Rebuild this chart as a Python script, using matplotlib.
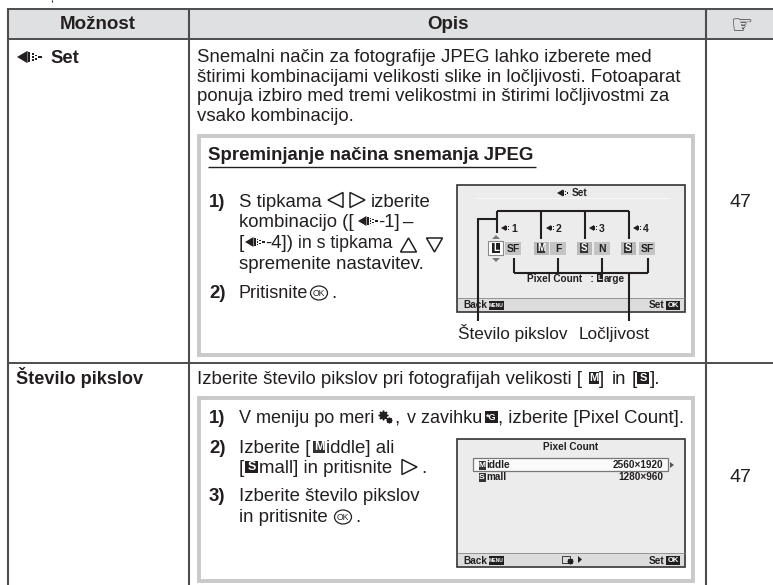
import matplotlib
matplotlib.use("Agg")
import matplotlib.pyplot as plt
from matplotlib.patches import Rectangle, Polygon, Ellipse

plt.rcParams['font.family'] = ['Liberation Sans', 'DejaVu Sans']

headers = ["Možnost", "Opis"]
row_labels = ["Set", "Število pikslov"]
page_refs = ["47", "47"]
intro_lines = ["Snemalni način za fotografije JPEG lahko izberete med",
               "štirimi kombinacijami velikosti slike in ločljivosti. Fotoaparat",
               "ponuja izbiro med tremi velikostmi in štirimi ločljivostmi za",
               "vsako kombinacijo."]
box_title = "Spreminjanje načina snemanja JPEG"
callouts = ["Število pikslov", "Ločljivost"]
combo_ids = ["1", "2", "3", "4"]
combo_sizes = ["L", "M", "S", "S"]
combo_quality = ["SF", "F", "N", "SF"]
pixel_rows = [("M", "iddle", "2560×1920"), ("S", "mall", "1280×960")]

INK = "#231f20"
LINE = "#4d4d4d"
BOX = "#c8c9ca"
SCREEN = "#ececec"
BODY = 13.4

fig = plt.figure(figsize=(7.73, 5.85), dpi=100)
ax = fig.add_axes([0, 0, 1, 1])
ax.set_xlim(0, 773)
ax.set_ylim(585, 0)
ax.axis("off")


def txt(x, y, s, size=BODY, weight="normal", ha="left", color=INK, va="baseline", **kw):
    ax.text(x, y, s, fontsize=size, fontweight=weight, ha=ha, va=va, color=color, **kw)


def line(xs, ys, lw=1.5, color=INK):
    ax.plot(xs, ys, color=color, lw=lw, solid_capstyle="butt", solid_joinstyle="miter")


def jpeg_icon(x, y, h, color=INK):
    # left arrow with the little dot columns behind it
    ax.add_patch(Polygon([(x, y), (x + h * 0.85, y - h * 0.5), (x + h * 0.85, y + h * 0.5)],
                         color=color, lw=0))
    ax.add_patch(Rectangle((x + h * 0.9, y - h * 0.38), h * 0.16, h * 0.76, color=color, lw=0))
    for dx, n in [(1.2, 3), (1.42, 2)]:
        for k in range(n):
            off = (k - (n - 1) / 2) * h * 0.26
            ax.add_patch(Rectangle((x + h * dx, y + off - h * 0.07), h * 0.14, h * 0.14,
                                   color=color, lw=0))
    ax.add_patch(Rectangle((x + h * 1.7, y - h * 0.07), h * 0.3, h * 0.14, color=color, lw=0))


def badge(x, y, s, w=14, h=12, size=9, face="#231f20", color="white"):
    ax.add_patch(Rectangle((x - w / 2, y - h / 2), w, h, facecolor=face, edgecolor="none"))
    txt(x, y + 0.3, s, size=size, weight="bold", ha="center", va="center", color=color)


def tri(cx, cy, w, h, direction):
    pts = {"l": [(cx - w / 2, cy), (cx + w / 2, cy - h / 2), (cx + w / 2, cy + h / 2)],
           "r": [(cx + w / 2, cy), (cx - w / 2, cy - h / 2), (cx - w / 2, cy + h / 2)],
           "u": [(cx, cy - h / 2), (cx - w / 2, cy + h / 2), (cx + w / 2, cy + h / 2)],
           "d": [(cx, cy + h / 2), (cx - w / 2, cy - h / 2), (cx + w / 2, cy - h / 2)]}[direction]
    ax.add_patch(Polygon(pts, facecolor="none", edgecolor=INK, lw=1.1))


def ok_icon(cx, cy):
    ax.add_patch(Ellipse((cx, cy), 17, 14, facecolor="none", edgecolor=INK, lw=0.9))
    txt(cx, cy + 0.2, "OK", size=6.2, ha="center", va="center")


def screen_frame(x0, y0, x1, y1):
    ax.add_patch(Rectangle((x0, y0), x1 - x0, y1 - y0, facecolor=SCREEN, edgecolor="#333333", lw=1.2))
    ax.add_patch(Rectangle((x0 + 1, y1 - 14), x1 - x0 - 2, 13, facecolor="#dcdcdc", edgecolor="none"))
    line([x0, x1], [y1 - 14, y1 - 14], lw=0.6, color="#888888")
    txt(x0 + 6, y1 - 3.5, "Back", size=7.2, weight="bold")
    badge(x0 + 39, y1 - 6.5, "MENU", w=15, h=9, size=3.6)
    txt(x1 - 36, y1 - 3.5, "Set", size=7.2, weight="bold")
    badge(x1 - 12, y1 - 6.5, "OK", w=14, h=9, size=5.5)


# table shading and rules
ax.add_patch(Rectangle((7, 9), 766, 30, facecolor="#dfe0e1", edgecolor="none"))
for y in [9, 39, 363]:
    line([7, 773], [y, y], lw=1.4, color=LINE)
for x in [7.5, 189, 706]:
    line([x, x], [9, 585], lw=1.5, color=LINE)
line([52, 52], [0, 2], lw=0.8)

# header row
txt(98, 29, headers[0], size=13.5, weight="bold", ha="center")
txt(448, 29, headers[1], size=13.5, weight="bold", ha="center")
txt(742, 26, "☞", size=18, ha="center", va="center", family="DejaVu Sans")

# row 1
jpeg_icon(17, 57, 12.5)
txt(50, 63, row_labels[0], size=13.2, weight="bold")
for y, s in zip([62, 82, 101, 121], intro_lines):
    txt(197, y, s)
txt(740, 207, page_refs[0], size=14, ha="center")

ax.add_patch(Rectangle((199, 136), 494, 219, facecolor="white", edgecolor=BOX, lw=2.8))
txt(208, 160, box_title, size=13.4, weight="bold")
line([208, 536], [167, 167], lw=1.0)

txt(209, 207, "1)", weight="bold")
txt(239, 207, "S tipkama")
tri(335.5, 200, 15, 15, "l")
tri(357.5, 200, 15, 15, "r")
txt(371, 207, "izberite")
txt(239, 227, "kombinacijo ([")
jpeg_icon(358, 221, 10)
txt(378, 227, "-1]")
txt(403, 227, "–")
txt(239, 248, "[")
jpeg_icon(245, 242, 10)
txt(265, 248, "-4])")
txt(298, 248, "in s tipkama", size=12.8)
tri(408.5, 245, 16, 14, "u")
tri(434.5, 245, 16, 14, "d")
txt(239, 269, "spremenite nastavitev.")
txt(209, 298, "2)", weight="bold")
txt(239, 298, "Pritisnite", size=13)
ok_icon(319, 293)
txt(331, 298, ".")

# first camera screen
screen_frame(457, 185, 685, 312)
jpeg_icon(557, 193, 7)
txt(572, 196, row_labels[0], size=7.2, weight="bold")
line([475, 670], [198, 198], lw=0.8, color="#f8f8f8")
size_x = [496, 541, 584, 628]
qual_x = [513, 558, 602, 647]
for i in range(4):
    jpeg_icon(size_x[i] + 5, 228, 6)
    txt(size_x[i] + 15, 231.5, combo_ids[i], size=7.5, weight="bold")
    if i == 0:
        ax.add_patch(Rectangle((488, 241), 15, 14, facecolor="white", edgecolor="#888888", lw=0.8))
        badge(size_x[i], 248, combo_sizes[i], w=8, h=10, size=7)
    else:
        ax.add_patch(Rectangle((size_x[i] - 7.5, 242), 15, 13, facecolor="#b9b9b9", edgecolor="none"))
        badge(size_x[i], 248, combo_sizes[i], w=8, h=10, size=7, face="#333333")
    ax.add_patch(Rectangle((qual_x[i] - 8, 242), 16, 13, facecolor="#c4c4c4", edgecolor="none"))
    txt(qual_x[i], 248.5, combo_quality[i], size=7.5, weight="bold", ha="center", va="center")
ax.add_patch(Polygon([(496, 235), (492, 239), (500, 239)], color="#777777", lw=0))
ax.add_patch(Polygon([(496, 262), (492, 258), (500, 258)], color="#777777", lw=0))

txt(527, 282, "Pixel Count   :", size=7.2, weight="bold")
badge(600, 278, "L", w=6, h=8, size=5.5)
txt(604, 282, "arge", size=7.2, weight="bold")

# callout lines
line([497, 629], [211, 211])
line([497, 497], [211, 233])
for x in [541, 585, 629]:
    line([x, x], [211, 239])
line([478, 478, 497], [321, 219, 219])
line([514, 648], [273, 273])
for x in [514, 558, 602, 648]:
    line([x, x], [258, 273])
line([629, 629], [273, 321])
txt(458, 339, callouts[0], size=12.4)
txt(579, 339, callouts[1], size=12.4)

# row 2
txt(16, 384, row_labels[1], size=13.1, weight="bold")
txt(197, 384, "Izberite število pikslov pri fotografijah velikosti [")
badge(594, 378, "M", w=10, h=12, size=8)
txt(599, 384, "]")
txt(612, 384, "in")
txt(632, 384, "[")
badge(643, 378, "S", w=12, h=12, size=8)
txt(650, 384, "].")
txt(740, 482, page_refs[1], size=14, ha="center")

ax.add_patch(Rectangle((199, 398), 494, 183, facecolor="white", edgecolor=BOX, lw=2.8))
txt(209, 423, "1)", weight="bold")
txt(239, 423, "V meniju po meri", size=13)
ax.plot([383], [415], marker=(8, 1, 0), ms=7, color=INK, ls="none")
ax.plot([389], [420], marker=(8, 1, 0), ms=4, color=INK, ls="none")
txt(394, 423, ",")
txt(407, 423, "v zavihku", size=13)
badge(491, 417, "*G", w=13, h=12, size=6.5)
txt(498, 423, ", izberite [Pixel Count].")
txt(209, 453, "2)", weight="bold")
txt(239, 453, "Izberite [")
badge(319, 447, "M", w=12, h=12, size=9, face="#333333")
txt(326, 453, "iddle] ali")
txt(239, 473, "[")
badge(251.5, 467, "S", w=13, h=12, size=9)
txt(259, 473, "mall] in pritisnite")
tri(409.5, 467, 15, 15, "r")
txt(421, 473, ".")
txt(209, 501, "3)", weight="bold")
txt(239, 501, "Izberite število pikslov")
txt(239, 522, "in pritisnite")
ok_icon(343, 517)
txt(355, 522, ".")

# second camera screen
screen_frame(457, 439, 685, 567)
txt(571, 447, "Pixel Count", size=7.2, weight="bold", ha="center", va="center")
ax.add_patch(Rectangle((473, 458), 195, 13, facecolor="#fafafa", edgecolor="#777777", lw=0.9))
for y, (letter, rest, res) in zip([465, 477], pixel_rows):
    badge(482, y, letter, w=7, h=9, size=6, face="#333333")
    txt(486, y + 3, rest, size=7.2, weight="bold")
    txt(663, y + 3, res, size=7.2, weight="bold", ha="right")
ax.add_patch(Polygon([(670, 462), (670, 468), (674, 465)], color="#555555", lw=0))
ax.add_patch(Rectangle((562, 556), 8, 7, facecolor="none", edgecolor=INK, lw=0.6))
ax.plot([570], [561], marker=(8, 1, 0), ms=4, color=INK, ls="none")
ax.add_patch(Polygon([(578, 556), (578, 563), (582, 559.5)], color=INK, lw=0))

fig.savefig("out.png", dpi=100)
